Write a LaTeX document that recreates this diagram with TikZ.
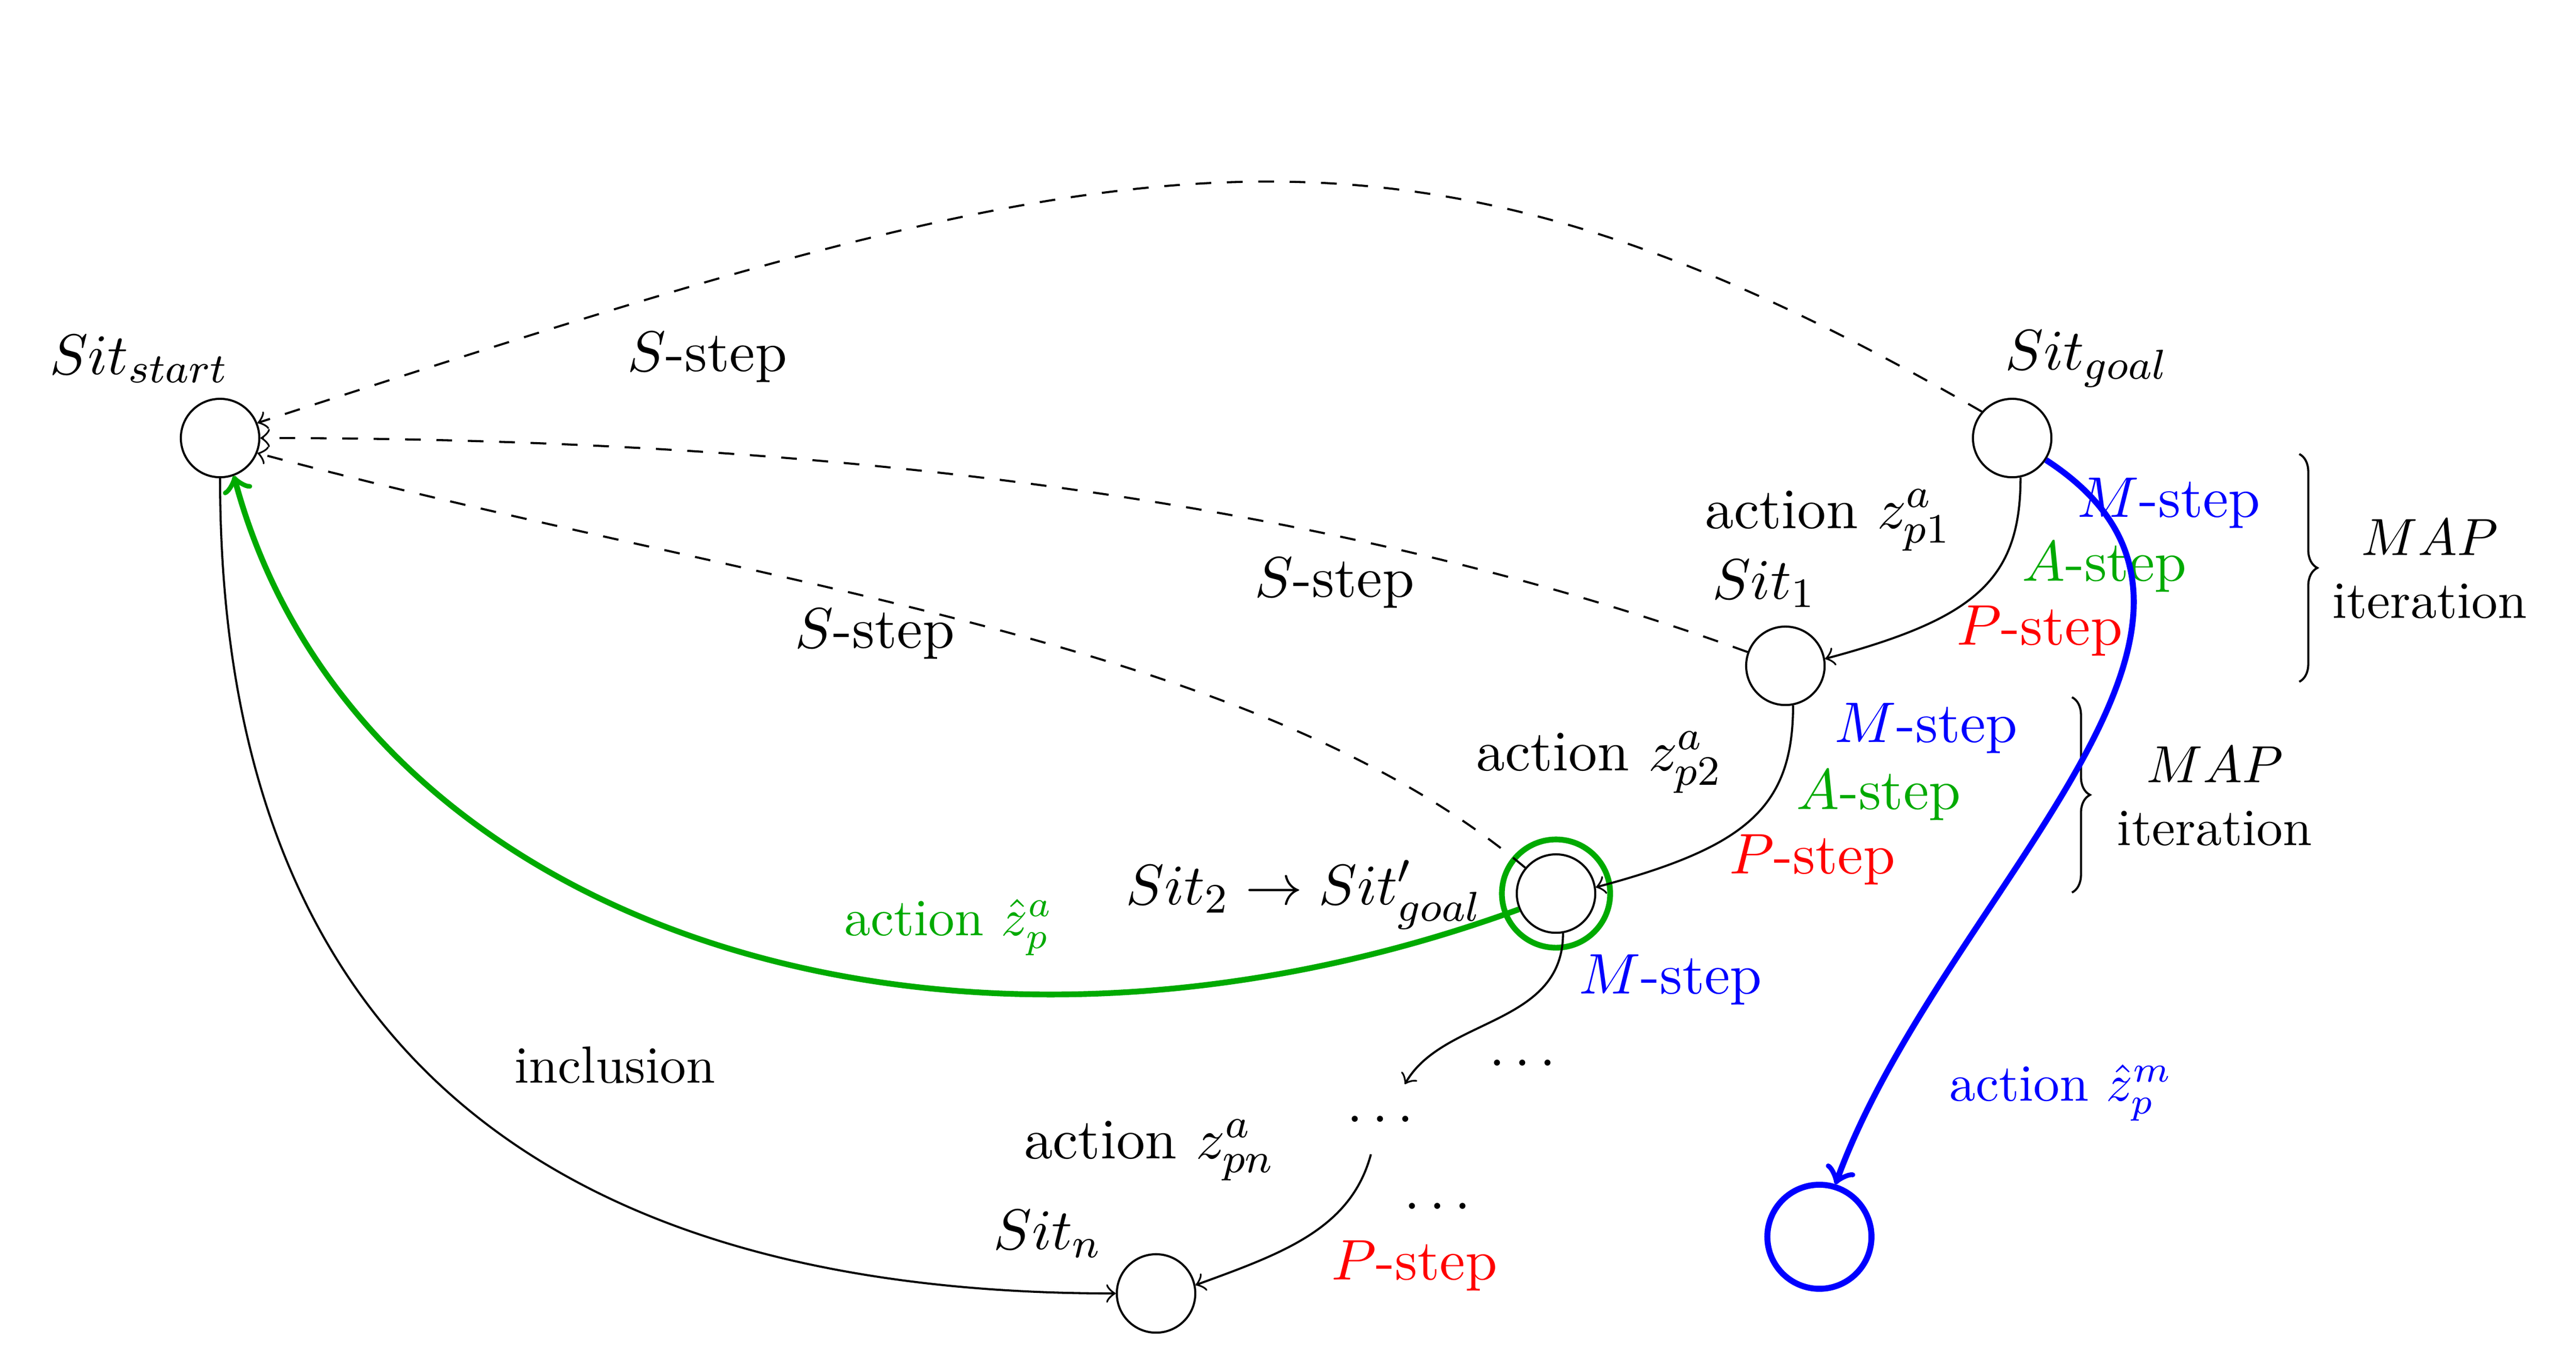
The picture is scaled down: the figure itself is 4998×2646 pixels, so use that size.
\documentclass[tikz,border=0pt]{standalone}
\usetikzlibrary{decorations.pathreplacing}
\definecolor{mygreen}{RGB}{0,170,0}
\begin{document}
\begin{tikzpicture}[x=0.098519pt,y=0.098519pt,
  sit/.style={circle,draw,line width=0.4pt,minimum size=15pt,inner sep=0pt},
  lbl/.style={anchor=base},
  big/.style={anchor=base,font=\fontsize{10.95}{13.6}\selectfont},
  conn/.style={->,line width=0.4pt},
  sdash/.style={->,dashed,line width=0.4pt},
  bracestyle/.style={decorate,decoration={brace,amplitude=3.45pt},line width=0.4pt},
  thickgreen/.style={->,draw=mygreen,line width=1.1pt},
  thickblue/.style={->,draw=blue,line width=1.15pt}]
\useasboundingbox (0,0) rectangle (4998,-2646);
% situation nodes
\node[sit] (start) at (427,-850) {};
\node[sit] (goal) at (3904,-850) {};
\node[sit] (s1) at (3464,-1292) {};
\node[sit] (s2) at (3019,-1734) {};
\node[circle,draw=mygreen,line width=1.1pt,minimum size=20.7pt,inner sep=0pt] (s2ring) at (s2) {};
\node[sit] (sitn) at (2243,-2510) {};
\node[circle,draw=blue,line width=1.15pt,minimum size=19.9pt,inner sep=0pt] (bluec) at (3530,-2400) {};
\node[inner sep=0pt,minimum width=16pt,minimum height=13pt,font=\fontsize{10.95}{13.6}\selectfont] (d2) at (2678,-2172) {$\dots$};
% labels
\node[big] (tstart) at (270,-726) {$Sit_{start}$};
\node[big] (tss1) at (1372,-720) {$S$-step};
\node[big] (tgoal) at (4049,-717) {$Sit_{goal}$};
\node[big] (tz1) at (3547,-1025) {action $z^a_{p1}$};
\node[big] (ts1) at (3423,-1162) {$Sit_1$};
\node[big,blue] (m1) at (4208,-1003) {$M$-step};
\node[big,mygreen] (a1) at (4083,-1127) {$A$-step};
\node[big,red] (p1) at (3957,-1251) {$P$-step};
\node[big,blue] (m2) at (3737,-1440) {$M$-step};
\node[big,mygreen] (a2) at (3645,-1570) {$A$-step};
\node[big,red] (p2) at (3516,-1695) {$P$-step};
\node[align=center] (map1) at (4714,-1104) {$MAP$\\iteration};
\node[align=center] (map2) at (4297,-1545) {$MAP$\\iteration};
\node[big] (ss2) at (2589,-1158) {$S$-step};
\node[big] (ss3) at (1697,-1257) {$S$-step};
\node[big] (tz2) at (3103,-1495) {action $z^a_{p2}$};
\node[big] (ts2) at (2530,-1755) {$Sit_2 \rightarrow Sit'_{goal}$};
\node[lbl,mygreen] (tzg) at (1841,-1815) {action $\hat{z}^a_p$};
\node[big,blue] (m3) at (3241,-1928) {$M$-step};
\node[lbl] (incl) at (1193,-2101) {inclusion};
\node[big] (d1) at (2954,-2068) {$\dots$};
\node[big] (d3) at (2789,-2346) {$\dots$};
\node[big] (tzn) at (2230,-2248) {action $z^a_{pn}$};
\node[big] (tsn) at (2033,-2424) {$Sit_n$};
\node[big,red] (p3) at (2744,-2483) {$P$-step};
\node[lbl,blue] (tzm) at (3999,-2136) {action $\hat{z}^m_p$};
% braces
\coordinate (b1t) at (4461,-881);
\coordinate (b1b) at (4461,-1323);
\coordinate (b2t) at (4020,-1353);
\coordinate (b2b) at (4020,-1732);
\draw[bracestyle] (b1t) -- (b1b);
\draw[bracestyle] (b2t) -- (b2b);
% connectors
\draw[sdash] (goal.139) .. controls +(150:1350) and +(18:1740) .. (start.22);
\draw[sdash] (s1.160) .. controls +(160:800) and +(0:1200) .. (start.0);
\draw[sdash] (s2.140) .. controls +(140:700) and +(-15:1000) .. (start.-22);
\draw[conn] (goal.-78) .. controls +(-90:200) and +(15:300) .. (s1.10);
\draw[conn] (s1.-79) .. controls +(-90:200) and +(15:300) .. (s2.9);
\draw[conn] (s2.-80) .. controls +(-90:180) and +(60:150) .. (d2.55);
\draw[conn] (d2.-105) .. controls +(-105:150) and +(20:180) .. (sitn.12);
\draw[conn] (start.-90) .. controls +(-90:1100) and +(180:1100) .. (sitn.180);
\draw[thickgreen] (s2.203) .. controls +(200:1200) and +(-75:900) .. (start.-70);
\draw[thickblue] (goal.-33) .. controls +(-33:580) and +(70:600) .. (bluec.73);
\end{tikzpicture}
\end{document}
